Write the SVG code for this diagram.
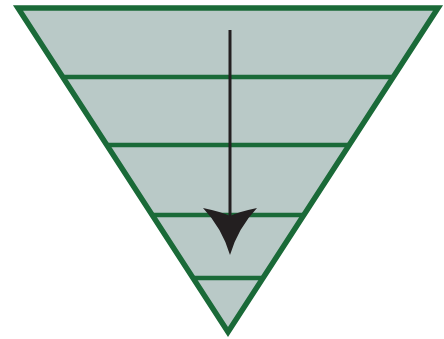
<svg xmlns="http://www.w3.org/2000/svg" width="444" height="339" viewBox="0 0 444 339">
<style>
.band{stroke:#1a6a38;stroke-width:4.5;fill:none}
.edge{stroke:#1a6a38;stroke-width:5.5;fill:none;stroke-linejoin:miter}
</style>
<rect width="444" height="339" fill="#ffffff"/>
<g id="funnel">
<polygon points="18,8 438,8 228,332" fill="#b9c9c7"/>
<line class="band" x1="62" y1="77" x2="394" y2="77"/>
<line class="band" x1="106" y1="145" x2="350" y2="145"/>
<line class="band" x1="152" y1="215" x2="304" y2="215"/>
<line class="band" x1="193" y1="278" x2="263" y2="278"/>
<polygon class="edge" points="18,8 438,8 228,332"/>
</g>
<g id="connectors">
<line x1="230" y1="30" x2="230" y2="220" stroke="#231f20" stroke-width="3"/>
<path d="M203,208 Q222,212 230,216 Q238,212 257,208 Q238,228 230,255 Q222,228 203,208 Z" fill="#231f20"/>
</g>
</svg>
